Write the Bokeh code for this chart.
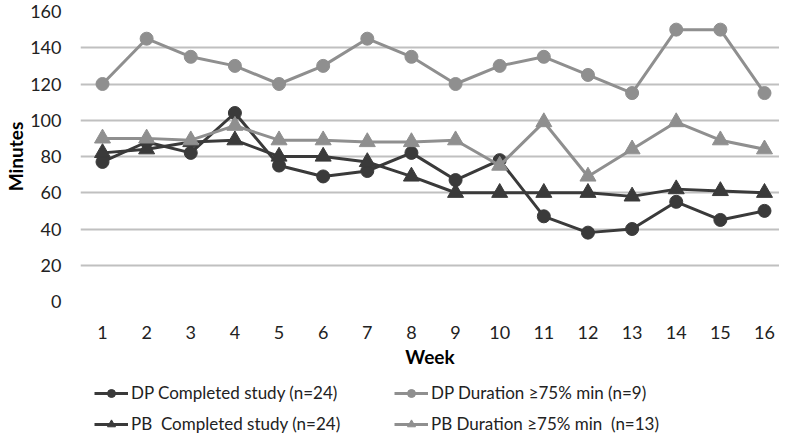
from bokeh.plotting import figure
from bokeh.layouts import column
from bokeh.models import Legend, LegendItem, Range1d, FixedTicker
from bokeh.embed import file_html
from bokeh.resources import INLINE

weeks = list(range(1, 17))
dp_completed = [77, 88, 82, 104, 75, 69, 72, 82, 67, 78, 47, 38, 40, 55, 45, 50]
pb_completed = [82, 84, 88, 89, 80, 80, 77, 69, 60, 60, 60, 60, 58, 62, 61, 60]
dp_duration = [120, 145, 135, 130, 120, 130, 145, 135, 120, 130, 135, 125, 115, 150, 150, 115]
pb_duration = [90, 90, 89, 97, 89, 89, 88, 88, 89, 75, 99, 69, 84, 99, 89, 84]
series_labels = [
    "DP Completed study (n=24)",
    "DP Duration \u226575% min (n=9)",
    "PB  Completed study (n=24)",
    "PB Duration \u226575% min  (n=13)",
]
y_ticks = [0, 20, 40, 60, 80, 100, 120, 140, 160]

DARK = "#3a3a3a"
LIGHT = "#8f8f8f"
FONT = "Lato"

p = figure(width=779, height=372, output_backend="svg", toolbar_location=None,
           x_range=Range1d(0.5015, 16.34), y_range=Range1d(0, 160),
           min_border_top=11, min_border_left=80, min_border_right=0, min_border_bottom=71)
p.outline_line_color = None

p.xgrid.grid_line_color = None
p.ygrid.grid_line_color = "#c0c0c0"
p.ygrid.grid_line_width = 2

p.yaxis.ticker = FixedTicker(ticks=y_ticks)
p.xaxis.ticker = FixedTicker(ticks=weeks)
for ax in (p.xaxis[0], p.yaxis[0]):
    ax.axis_line_color = None
    ax.major_tick_line_color = None
    ax.minor_tick_line_color = None
    ax.major_label_text_font = FONT
    ax.major_label_text_font_size = "18px"
    ax.major_label_text_color = "#222222"
    ax.axis_label_text_font = FONT
    ax.axis_label_text_font_size = "19px"
    ax.axis_label_text_font_style = "bold"
    ax.axis_label_text_color = "#000000"

p.xaxis.axis_label = "Week"
p.yaxis.axis_label = "Minutes"
p.xaxis.major_label_standoff = 18
p.xaxis.axis_label_standoff = 3
p.yaxis.major_label_standoff = 13
p.yaxis.axis_label_standoff = 0

specs = [
    (dp_completed, DARK, "circle", 13),
    (dp_duration, LIGHT, "circle", 13),
    (pb_completed, DARK, "triangle", 16),
    (pb_duration, LIGHT, "triangle", 16),
]
for vals, col, mk, sz in specs:
    p.line(weeks, vals, line_color=col, line_width=3)
    p.scatter(weeks, vals, marker=mk, size=sz, fill_color=col, line_color=col)

# legend panel below the chart (its series lie outside its empty view)
lg = figure(width=779, height=66, output_backend="svg", toolbar_location=None,
            x_axis_type=None, y_axis_type=None,
            x_range=Range1d(0, 1), y_range=Range1d(-2, -1),
            min_border=0)
lg.outline_line_color = None
items = {}
for (vals, col, mk, sz), lab in zip(specs, series_labels):
    l = lg.line(weeks, vals, line_color=col, line_width=3)
    s = lg.scatter(weeks, vals, marker=mk, size=sz - 2, fill_color=col, line_color=col)
    items[lab] = LegendItem(label=lab, renderers=[l, s])

order = [series_labels[0], series_labels[2], series_labels[1], series_labels[3]]
legend = Legend(items=[items[k] for k in order], ncols=2, location=(14, 4),
                label_text_font=FONT, label_text_font_size="17px", label_text_color="#222222",
                glyph_width=34, glyph_height=20, label_height=20, label_width=253, spacing=10,
                label_standoff=3, padding=0, margin=0, border_line_color=None,
                background_fill_alpha=0)
lg.add_layout(legend, "center")

open("out.html", "w").write(file_html(column(p, lg, spacing=0), INLINE))
